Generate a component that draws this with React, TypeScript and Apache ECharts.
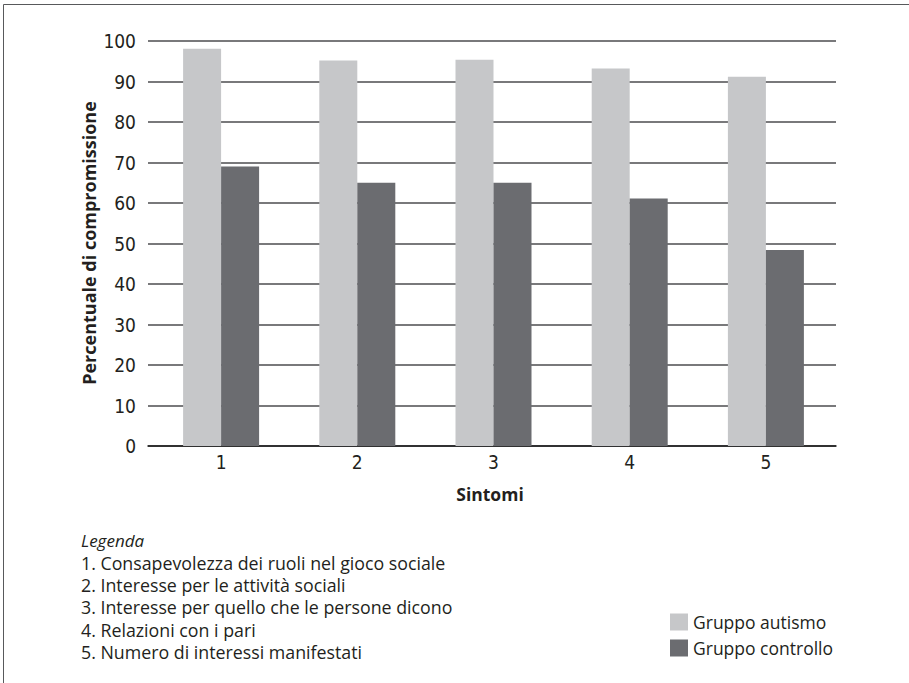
import React, { useEffect, useRef } from "react";
import * as echarts from "echarts";

// Symptom categories shown on the x axis
const symptoms = ["1", "2", "3", "4", "5"];

// Percentage of impairment per group
const autismGroup = [98.1, 95.2, 95.4, 93.2, 91.2];
const controlGroup = [69.0, 65.0, 65.0, 61.1, 48.4];

const seriesNames = ["Gruppo autismo", "Gruppo controllo"];

// Key describing each numbered symptom
const legendTitle = "Legenda";
const legendItems = [
  "1. Consapevolezza dei ruoli nel gioco sociale",
  "2. Interesse per le attività sociali",
  "3. Interesse per quello che le persone dicono",
  "4. Relazioni con i pari",
  "5. Numero di interessi manifestati",
];

const yTitle = "Percentuale di compromissione";
const xTitle = "Sintomi";

const LIGHT = "#c6c7c9";
const DARK = "#6b6c70";
const TEXT = "#231f20";
const BODY_FONT = "'Open Sans', 'Noto Sans', sans-serif";
const NARROW_FONT = "'Liberation Sans Narrow', 'DejaVu Sans Condensed', 'Roboto', sans-serif";

export default function App() {
  const ref = useRef<HTMLDivElement>(null);

  useEffect(() => {
    if (!ref.current) return;
    const chart = echarts.init(ref.current, undefined, { renderer: "svg" });

    const keyTexts = [
      {
        type: "text",
        x: 81,
        y: 540,
        style: {
          text: legendTitle,
          font: `italic 17px ${BODY_FONT}`,
          fill: TEXT,
          verticalAlign: "middle",
        },
      },
      ...legendItems.map((t, i) => ({
        type: "text",
        x: 81,
        y: 562.5 + i * 22.4,
        style: { text: t, font: `17.8px ${BODY_FONT}`, fill: TEXT, verticalAlign: "middle" },
      })),
    ];

    chart.setOption({
      animation: false,
      backgroundColor: "#ffffff",
      grid: [
        // bars
        { left: 153, right: 75, top: 41, bottom: 237 },
        // horizontal rules and value labels
        { left: 148, right: 73, top: 41, bottom: 237 },
      ],
      xAxis: [
        {
          type: "category",
          gridIndex: 0,
          data: symptoms,
          axisLine: { show: false },
          axisTick: { show: false },
          axisLabel: { margin: 6, fontSize: 19, color: TEXT, fontFamily: NARROW_FONT },
        },
        {
          type: "value",
          gridIndex: 1,
          min: 0,
          max: 1,
          axisLabel: { show: false },
          axisTick: { show: false },
          splitLine: { show: false },
          axisLine: { show: true, lineStyle: { color: "#1a1a1a", width: 1.5 } },
        },
      ],
      yAxis: [
        {
          type: "value",
          gridIndex: 0,
          min: 0,
          max: 100,
          interval: 10,
          show: false,
          splitLine: { show: false },
        },
        {
          type: "value",
          gridIndex: 1,
          min: 0,
          max: 100,
          interval: 10,
          axisLine: { show: false },
          axisTick: { show: false },
          axisLabel: { margin: 12, fontSize: 19, color: TEXT, fontFamily: NARROW_FONT },
          splitLine: { show: true, lineStyle: { color: "#4d4d4f", width: 1.5 } },
        },
      ],
      legend: {
        orient: "vertical",
        left: 665,
        top: 608,
        itemWidth: 18,
        itemHeight: 17,
        itemGap: 8,
        icon: "rect",
        data: seriesNames,
        textStyle: { fontSize: 17.5, color: TEXT, fontFamily: BODY_FONT, padding: [0, 0, 0, 0] },
      },
      series: [
        {
          name: seriesNames[0],
          type: "bar",
          xAxisIndex: 0,
          yAxisIndex: 0,
          data: autismGroup,
          barWidth: 38,
          barGap: "0%",
          itemStyle: { color: LIGHT },
        },
        {
          name: seriesNames[1],
          type: "bar",
          xAxisIndex: 0,
          yAxisIndex: 0,
          data: controlGroup,
          barWidth: 38,
          barGap: "0%",
          itemStyle: { color: DARK },
        },
      ],
      graphic: [
        // outer frame
        {
          type: "rect",
          shape: { x: 3.5, y: 4.5, width: 920, height: 700 },
          style: { fill: "none", stroke: "#58595b", lineWidth: 1 },
          silent: true,
        },
        {
          type: "text",
          x: 89,
          y: 243,
          rotation: Math.PI / 2,
          style: {
            text: yTitle,
            font: `bold 18px ${BODY_FONT}`,
            fill: TEXT,
            align: "center",
            verticalAlign: "middle",
          },
        },
        {
          type: "text",
          x: 490,
          y: 494,
          style: {
            text: xTitle,
            font: `bold 17.5px ${BODY_FONT}`,
            fill: TEXT,
            align: "center",
            verticalAlign: "middle",
          },
        },
        ...keyTexts,
      ],
    });

    return () => chart.dispose();
  }, []);

  return (
    <div
      ref={ref}
      style={{ position: "fixed", left: 0, top: 0, width: 909, height: 683, background: "#fff" }}
    />
  );
}
